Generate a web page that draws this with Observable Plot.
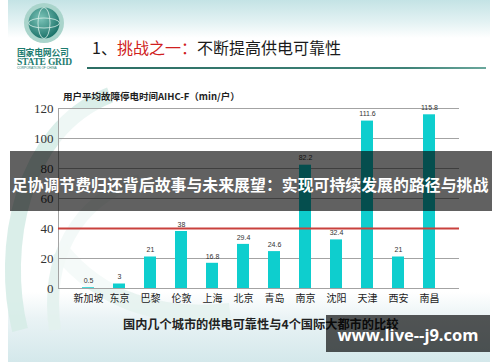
<!DOCTYPE html>
<html>
<head>
<meta charset="utf-8">
<script src="https://cdn.jsdelivr.net/npm/d3@7"></script>
<script src="https://cdn.jsdelivr.net/npm/@observablehq/plot@0.6"></script>
<style>
  html, body { margin: 0; padding: 0; background: #ffffff; }
  #page { position: relative; width: 500px; height: 362px; overflow: hidden; font-family: "Noto Sans CJK SC", sans-serif; }
  #slide { position: absolute; left: 8px; top: 0; width: 482px; height: 362px;
    background: linear-gradient(to bottom, #c4e3e5 0px, #e3f2f3 22px, #ffffff 38px, #ffffff 292px, #eaf3f5 318px, #d4e8eb 362px); }
  #deco { position: absolute; left: 0; top: 0; }
  #chart { position: absolute; left: 0; top: 0; }
  .abs { position: absolute; white-space: nowrap; }
  #title { left: 92px; top: 36px; font-size: 16px; color: #1a1a1a; line-height: 22px; }
  #title .red { color: #d02020; }
  #rule { left: 87px; top: 67px; width: 399px; height: 2px; background: linear-gradient(to right, #2c6e64, #3f8378 80%, #6aa79c); }
  #sub { left: 63px; top: 89px; font-size: 9.5px; font-weight: 700; color: #1e1e1e; line-height: 14px; }
  #banner { left: 10px; top: 151px; width: 482px; height: 60px; background: rgba(0,0,0,0.62); z-index: 5; }
  #bannerText { left: 10px; top: 173px; width: 480px; text-align: center; font-size: 15.9px; font-weight: 700; color: #ffffff; line-height: 24px; z-index: 6; }
  #caption { left: 123px; top: 316px; font-size: 12.2px; font-weight: 700; color: #222; line-height: 16px; }
  #wm { left: 326px; top: 315px; width: 164px; height: 37px; background: rgba(0,0,0,0.66); z-index: 5; }
  #wmText { left: 326px; top: 324px; width: 164px; text-align: center; font-family: "Open Sans", sans-serif; font-size: 16.5px; font-weight: 700; color: #fff; line-height: 22px; z-index: 6; }
  #logoText1 { left: 17px; top: 48px; font-size: 8.8px; font-weight: 700; color: #1d7c70; line-height: 9px; letter-spacing: -0.2px; }
  #logoText2 { left: 17px; top: 58px; font-family: "Liberation Serif", serif; font-size: 9.5px; font-weight: 700; color: #1d7c70; line-height: 8px; letter-spacing: -0.2px; }
  #logoText3 { left: 17px; top: 67px; font-family: "Liberation Sans", sans-serif; font-size: 3.2px; color: #1d7c70; line-height: 3px; }
</style>
</head>
<body>
<div id="page">
  <div id="slide"></div>
  <svg id="deco" width="500" height="362">
    <defs>
      <radialGradient id="globe" cx="0.4" cy="0.35" r="0.7">
        <stop offset="0" stop-color="#7cc4b8"/>
        <stop offset="1" stop-color="#176f66"/>
      </radialGradient>
    </defs>
    <path d="M 20 330 C 0 250, 20 130, 110 95" fill="none" stroke="#d6ece7" stroke-width="16" opacity="0.9"/>
    <path d="M 55 330 C 45 260, 75 200, 140 180" fill="none" stroke="#e2f1ed" stroke-width="12" opacity="0.9"/>
    <path d="M 60 250 C 100 300, 160 320, 230 312" fill="none" stroke="#e4f1ee" stroke-width="18" opacity="0.8"/>
    <circle cx="44" cy="23" r="20" fill="#a9d4cb"/>
    <circle cx="44" cy="23" r="15.5" fill="url(#globe)"/>
    <ellipse cx="44" cy="23" rx="15.5" ry="5" fill="none" stroke="#d8efe9" stroke-width="0.8"/>
    <ellipse cx="44" cy="23" rx="6" ry="15.5" fill="none" stroke="#d8efe9" stroke-width="0.8"/>
  </svg>
  <div id="chart"></div>
  <div class="abs" id="logoText1">国家电网公司</div>
  <div class="abs" id="logoText2">STATE GRID</div>
  <div class="abs" id="logoText3">CORPORATION OF CHINA</div>
  <div class="abs" id="title">1、<span class="red">挑战之一：</span>不断提高供电可靠性</div>
  <div class="abs" id="rule"></div>
  <div class="abs" id="sub">用户平均故障停电时间AIHC-F（min/户）</div>
  <div class="abs" id="banner"></div>
  <div class="abs" id="bannerText">足协调节费归还背后故事与未来展望：实现可持续发展的路径与挑战</div>
  <div class="abs" id="caption">国内几个城市的供电可靠性与4个国际大都市的比较</div>
  <div class="abs" id="wm"></div>
  <div class="abs" id="wmText">www.live--j9.com</div>
</div>
<script>
const cities = ["新加坡","东京","巴黎","伦敦","上海","北京","青岛","南京","沈阳","天津","西安","南昌"];
const values = [0.5, 3, 21, 38, 16.8, 29.4, 24.6, 82.2, 32.4, 111.6, 21, 115.8];
const valueLabels = ["0.5","3","21","38","16.8","29.4","24.6","82.2","32.4","111.6","21","115.8"];
const yTicks = [0, 20, 40, 60, 80, 100, 120];
const gridTicks = [20, 60, 80, 100, 120];
const reference = [40];

const data = cities.map((c, i) => ({city: c, value: values[i], label: valueLabels[i]}));

const chart = Plot.plot({
  width: 500,
  height: 362,
  marginLeft: 58,
  marginRight: 41,
  marginTop: 108,
  marginBottom: 74,
  style: {background: "transparent", overflow: "visible"},
  x: {domain: cities, padding: 0.61, label: null},
  y: {domain: [0, 120], label: null},
  marks: [
    Plot.frame({fill: "white", fillOpacity: 0.55, stroke: null}),
    Plot.ruleY(gridTicks, {stroke: "#a3a3a3", strokeWidth: 1}),
    Plot.ruleY([0], {stroke: "#a3a3a3", strokeWidth: 1}),
    Plot.frame({anchor: "left", stroke: "#a3a3a3"}),
    Plot.barY(data, {x: "city", y: "value", fill: "#0ecece"}),
    Plot.ruleY(reference, {stroke: "#c9413d", strokeWidth: 2}),
    Plot.text(data, {x: "city", y: "value", text: "label", dy: -7, fontSize: 7, fill: "#333", fontFamily: "Liberation Sans"}),
    Plot.axisY({ticks: yTicks, tickSize: 0, tickPadding: 5, fontSize: 13, fontFamily: "Liberation Serif", fill: "#333", label: null}),
    Plot.axisX({tickSize: 0, tickPadding: 6, fontSize: 10, fontFamily: "Noto Sans CJK SC", fill: "#222", label: null})
  ]
});
document.getElementById("chart").appendChild(chart);
</script>
</body>
</html>
